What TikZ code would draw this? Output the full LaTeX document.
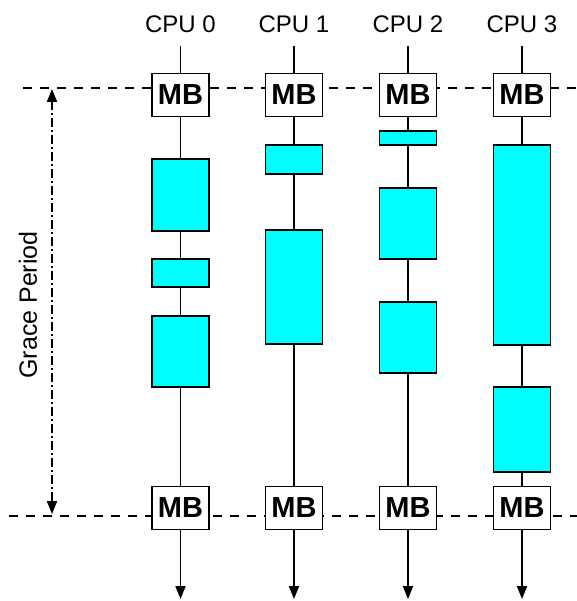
\documentclass[tikz,border=0pt]{standalone}
\usepackage{fontspec}
\setmainfont{Liberation Sans}
\usetikzlibrary{arrows.meta}
\definecolor{taskcyan}{RGB}{0,255,255}

\begin{document}
\begin{tikzpicture}[
  x=0.5pt, y=-0.5pt,
  cpulabel/.style={anchor=base, font=\fontsize{12}{14}\selectfont},
  mbbox/.style={draw, fill=white, line width=0.75pt, inner sep=0pt, minimum width=28.5pt, minimum height=21.5pt, font=\fontsize{14.5}{16}\selectfont\bfseries},
  task/.style={draw, fill=taskcyan, line width=0.8pt, inner sep=0pt, minimum width=28.5pt},
  cpuline/.style={line width=0.75pt, -{Triangle[length=6.4pt,width=5pt]}},
  barrier/.style={line width=0.7pt, dash pattern=on 4.5pt off 4pt},
  period/.style={line width=0.7pt, dash pattern=on 4.5pt off 1.5pt on 1pt off 1.5pt, {Triangle[length=6.4pt,width=5pt]}-{Triangle[length=6.4pt,width=5pt]}}
]
\useasboundingbox (0,0) rectangle (577,601);

% grace period bounds
\coordinate (gtl) at (23,88);
\coordinate (gtr) at (577,88);
\coordinate (gbl) at (9,516);
\coordinate (gbr) at (577,516);
\draw[barrier] (gtl) -- (gtr);
\draw[barrier] (gbl) -- (gbr);

\coordinate (gpa) at (52,89);
\coordinate (gpb) at (52,514);
\draw[period] (gpa) -- (gpb);
\node[rotate=90, font=\fontsize{12.5}{14}\selectfont] (grace) at (28,305) {Grace Period};

% CPUs
\foreach \i/\x in {0/180.5, 1/294, 2/408, 3/522} {
  \node[cpulabel] (cpu\i) at (\x,32) {CPU \i};
  \coordinate (top\i) at (\x,46);
  \coordinate (end\i) at (\x,599);
  \draw[cpuline] (top\i) -- (end\i);
  \node[mbbox] (mbt\i) at (\x,95) {MB};
  \node[mbbox] (mbb\i) at (\x,508) {MB};
}

% read-side critical sections
\foreach \nm/\x/\ya/\yb in {
    a0/180.5/159/231, b0/180.5/259/287, c0/180.5/316/387,
    a1/294/145/174, b1/294/230/344,
    a2/408/131/145, b2/408/188/259, c2/408/302/373,
    a3/522/145/345, b3/522/387/472} {
  \node[task, minimum height={(\yb-\ya)*0.5pt}] (\nm) at (\x,{(\ya+\yb)/2}) {};
}

\end{tikzpicture}
\end{document}
